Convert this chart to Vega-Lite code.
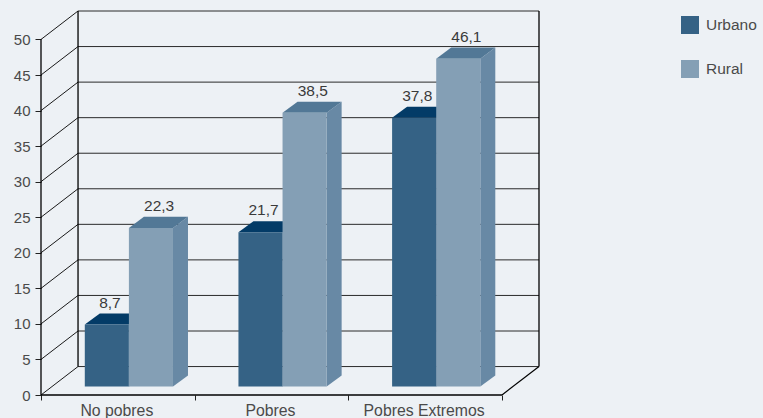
{
"$schema":"https://vega.github.io/schema/vega-lite/v6.json",
"width":498,"height":384,
"autosize":{"type":"none"},
"padding":{"left":41,"top":11,"right":224,"bottom":23},
"background":"#edf1f5",
"view":{"stroke":null},
"config":{"font":"Liberation Sans","view":{"stroke":null},"axis":{"labelOverlap":false},"axisY":{"labelOverlap":false,"labelBound":false,"labelSeparation":0}},
"datasets":{
"barras":[
{"grupo":"No pobres","serie":"Urbano","valor":8.7},
{"grupo":"No pobres","serie":"Rural","valor":22.3},
{"grupo":"Pobres","serie":"Urbano","valor":21.7},
{"grupo":"Pobres","serie":"Rural","valor":38.5},
{"grupo":"Pobres Extremos","serie":"Urbano","valor":37.8},
{"grupo":"Pobres Extremos","serie":"Rural","valor":46.1}
],
"niveles":[{"nivel":0},{"nivel":5},{"nivel":10},{"nivel":15},{"nivel":20},{"nivel":25},{"nivel":30},{"nivel":35},{"nivel":40},{"nivel":45},{"nivel":50}]
},
"resolve":{"scale":{"color":"independent"}},
"layer":[
{"data":{"name":"niveles"},
 "transform":[{"calculate":"datum.nivel+4","as":"atras"}],
 "mark":{"type":"rule","stroke":"#2a2a2a","strokeWidth":1},
 "encoding":{
  "x":{"datum":0.241,"type":"quantitative","scale":{"domain":[0,3.241],"nice":false,"zero":false},
   "axis":{"title":null,"values":[0,0.5,1,1.5,2,2.5,3],"domain":false,"grid":false,"tickSize":5,"tickColor":"#222",
    "tickOpacity":{"condition":{"test":"datum.value%1==0","value":1},"value":0},
    "labelExpr":"datum.value==0.5?'No pobres':datum.value==1.5?'Pobres':datum.value==2.5?'Pobres Extremos':''",
    "labelFontSize":15.8,"labelColor":"#4a4a4a","labelPadding":3,"labelOverlap":false,"labelFlush":false,"labelFont":"Liberation Sans","labelOffset":-1.5}},
  "x2":{"datum":3.241},
  "y":{"field":"atras","type":"quantitative","scale":{"domain":[0,54],"nice":false,"zero":false},
   "axis":{"title":null,"values":[0,5,10,15,20,25,30,35,40,45,50],"tickCount":11,"domain":false,"grid":false,"tickSize":6,"tickColor":"#222","labelFontSize":15,"labelColor":"#4a4a4a","labelPadding":5,"labelOverlap":false,"labelFlush":false,"labelFont":"Liberation Sans"}}
 }},
{"data":{"name":"niveles"},
 "transform":[{"calculate":"datum.nivel+4","as":"atras"}],
 "mark":{"type":"rule","stroke":"#1a1a1a","strokeWidth":1},
 "encoding":{
  "x":{"datum":0,"type":"quantitative"},"x2":{"datum":0.241},
  "y":{"field":"nivel","type":"quantitative"},"y2":{"field":"atras"}
 }},
{"data":{"values":[{}]},"mark":{"type":"rule","stroke":"#000","strokeWidth":1.3},"encoding":{"x":{"datum":0,"type":"quantitative"},"y":{"datum":0,"type":"quantitative"},"y2":{"datum":50}}},
{"data":{"values":[{}]},"mark":{"type":"rule","stroke":"#000","strokeWidth":1.3},"encoding":{"x":{"datum":0.241,"type":"quantitative"},"y":{"datum":4,"type":"quantitative"},"y2":{"datum":54}}},
{"data":{"values":[{}]},"mark":{"type":"rule","stroke":"#000","strokeWidth":1.3},"encoding":{"x":{"datum":3.241,"type":"quantitative"},"y":{"datum":4,"type":"quantitative"},"y2":{"datum":54}}},
{"data":{"values":[{}]},"mark":{"type":"rule","stroke":"#000","strokeWidth":1.3},"encoding":{"x":{"datum":0,"type":"quantitative"},"x2":{"datum":3},"y":{"datum":0,"type":"quantitative"}}},
{"data":{"values":[{}]},"mark":{"type":"rule","stroke":"#000","strokeWidth":1.2},"encoding":{"x":{"datum":3,"type":"quantitative"},"x2":{"datum":3.241},"y":{"datum":0,"type":"quantitative"},"y2":{"datum":4}}},
{"data":{"name":"barras"},
 "transform":[
  {"calculate":"indexof(['No pobres','Pobres','Pobres Extremos'],datum.grupo)+0.285+indexof(['Urbano','Rural'],datum.serie)*0.287","as":"gx"},
  {"calculate":"[0,1]","as":"k"},{"flatten":["k"]},
  {"calculate":"datum.gx+0.287+datum.k*0.0976","as":"xx"},
  {"calculate":"1.2+datum.k*1.55","as":"lo"},
  {"calculate":"datum.valor+1.2+datum.k*1.55","as":"hi"},
  {"calculate":"datum.grupo+datum.serie","as":"id"}],
 "mark":{"type":"area","interpolate":"linear"},
 "encoding":{
  "x":{"field":"xx","type":"quantitative"},
  "y":{"field":"lo","type":"quantitative"},"y2":{"field":"hi"},
  "detail":{"field":"id"},
  "color":{"field":"serie","type":"nominal","legend":null,"scale":{"domain":["Urbano","Rural"],"range":["#2a5273","#6889a5"]}}
 }},
{"data":{"name":"barras"},
 "transform":[
  {"calculate":"indexof(['No pobres','Pobres','Pobres Extremos'],datum.grupo)+0.285+indexof(['Urbano','Rural'],datum.serie)*0.287","as":"gx"},
  {"calculate":"[0,1,2,3]","as":"k"},{"flatten":["k"]},
  {"calculate":"datum.gx+[0,0.0976,0.287,0.3846][datum.k]","as":"xx"},
  {"calculate":"datum.valor+1.2+[0,0,0,1.55][datum.k]","as":"lo"},
  {"calculate":"datum.valor+1.2+[0,1.55,1.55,1.55][datum.k]","as":"hi"},
  {"calculate":"datum.grupo+datum.serie","as":"id"}],
 "mark":{"type":"area","interpolate":"linear"},
 "encoding":{
  "x":{"field":"xx","type":"quantitative"},
  "y":{"field":"lo","type":"quantitative"},"y2":{"field":"hi"},
  "detail":{"field":"id"},
  "color":{"field":"serie","type":"nominal","legend":null,"scale":{"domain":["Urbano","Rural"],"range":["#033b67","#527896"]}}
 }},
{"data":{"name":"barras"},
 "transform":[
  {"calculate":"indexof(['No pobres','Pobres','Pobres Extremos'],datum.grupo)+0.285+indexof(['Urbano','Rural'],datum.serie)*0.287","as":"gx"},
  {"calculate":"datum.gx+0.287","as":"gx2"},
  {"calculate":"datum.valor+1.2","as":"arriba"},
  {"calculate":"1.2","as":"base"}],
 "mark":{"type":"rect"},
 "encoding":{
  "x":{"field":"gx","type":"quantitative"},"x2":{"field":"gx2"},
  "y":{"field":"base","type":"quantitative"},"y2":{"field":"arriba"},
  "color":{"field":"serie","type":"nominal","scale":{"domain":["Urbano","Rural"],"range":["#356285","#849fb5"]},
   "legend":{"title":null,"orient":"none","legendX":640,"legendY":5,"symbolType":"square","symbolSize":324,"symbolStrokeWidth":0,"symbolOpacity":1,"rowPadding":26,"labelOffset":7,"labelFontSize":15.5,"labelColor":"#4a4a4a","labelFont":"Liberation Sans","padding":0,"offset":0}}
 }},
{"data":{"name":"barras"},
 "transform":[
  {"calculate":"indexof(['No pobres','Pobres','Pobres Extremos'],datum.grupo)+indexof(['Urbano','Rural'],datum.serie)*0.287+0.4285+indexof(['Urbano','Rural'],datum.serie)*0.033+0.02","as":"tx"},
  {"calculate":"datum.valor+2.75","as":"ty"},
  {"calculate":"replace(format(datum.valor,'.1f'),'.',',')","as":"etiqueta"}],
 "mark":{"type":"text","fontSize":15.5,"color":"#3a3a3a","font":"Liberation Sans","dy":-6,"baseline":"alphabetic","align":"center"},
 "encoding":{
  "x":{"field":"tx","type":"quantitative"},
  "y":{"field":"ty","type":"quantitative"},
  "text":{"field":"etiqueta","type":"nominal"}
 }}
]}
